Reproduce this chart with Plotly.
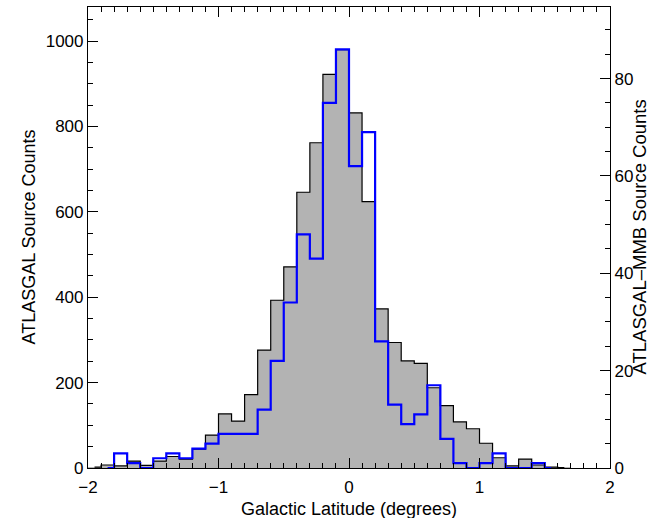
import plotly.graph_objects as go

# Bin layout (0.1 deg bins), galactic latitude
bin_width = 0.1
atlasgal_first_center = -1.95
mmb_first_center = -1.85

# ATLASGAL counts per bin (left axis), bins starting at -2.0
atlasgal_counts = [2, 7, 5, 16, 6, 16, 27, 21, 44, 77,
                   127, 110, 172, 276, 393, 471, 646, 762, 922, 980,
                   832, 624, 373, 294, 251, 245, 188, 146, 108, 92,
                   58, 24, 5, 21, 7, 2, 1]

# ATLASGAL-MMB counts per bin (right axis), bins starting at -1.9
mmb_counts = [0, 3, 1, 0, 2, 3, 2, 4, 5, 7,
              7, 7, 12, 22, 34, 48, 43, 75, 86, 62,
              69, 26, 13, 9, 11, 17, 6, 1, 0, 1,
              3, 0, 0, 1, 0]

x_ticks = [-2, -1, 0, 1, 2]
left_ticks = [0, 200, 400, 600, 800, 1000]
right_ticks = [0, 20, 40, 60, 80]
left_range = [0, 1080]
right_range = [0, 94.7]

x_title = "Galactic Latitude (degrees)"
left_title = "ATLASGAL Source Counts"
right_title = "ATLASGAL–MMB Source Counts"

atl_x = [round(atlasgal_first_center + i * bin_width, 3) for i in range(len(atlasgal_counts))]
mmb_x = [round(mmb_first_center + i * bin_width, 3) for i in range(len(mmb_counts))]

FONT = "Liberation Sans, Arial, sans-serif"
fig = go.Figure()

fig.add_trace(go.Bar(x=atl_x, y=atlasgal_counts, width=bin_width,
                     marker=dict(color="#b3b3b3", line=dict(width=0)),
                     showlegend=False, hoverinfo="skip"))
fig.add_trace(go.Scatter(x=atl_x, y=atlasgal_counts, mode="lines",
                         line=dict(color="black", width=1.2, shape="hvh"),
                         showlegend=False))
fig.add_trace(go.Scatter(x=mmb_x, y=mmb_counts, mode="lines", yaxis="y2",
                         line=dict(color="#0000ff", width=2.2, shape="hvh"),
                         showlegend=False))

fig.update_layout(
    width=661, height=518,
    margin=dict(l=88, r=51, t=7, b=50),
    plot_bgcolor="white", paper_bgcolor="white",
    bargap=0,
    font=dict(family=FONT, size=17, color="black"),
    xaxis=dict(range=[-2, 2], tickvals=x_ticks, ticks="inside", ticklen=10,
               tickwidth=1, tickcolor="black", showline=True, linecolor="black",
               linewidth=1.2, mirror="ticks", showgrid=False, zeroline=False,
               ticklabelstandoff=3,
               minor=dict(dtick=0.1, ticks="inside", ticklen=5, tickcolor="black", showgrid=False),
               automargin=False),
    yaxis=dict(range=left_range, tickvals=left_ticks, ticks="inside", ticklen=10,
               tickcolor="black", showline=True, linecolor="black", linewidth=1.2,
               showgrid=False, zeroline=False,
               minor=dict(dtick=50, ticks="inside", ticklen=5, tickcolor="black", showgrid=False),
               automargin=False),
    yaxis2=dict(range=right_range, tickvals=right_ticks, overlaying="y", side="right",
                ticks="inside", ticklen=10, tickcolor="black", showline=True,
                linecolor="black", linewidth=1.2, showgrid=False, zeroline=False,
                minor=dict(dtick=5, ticks="inside", ticklen=5, tickcolor="black", showgrid=False),
                automargin=False),
    annotations=[
        dict(text=x_title, xref="paper", yref="paper", x=0.5, y=0, yshift=-41,
             xanchor="center", yanchor="middle", showarrow=False, font=dict(size=18)),
        dict(text=left_title, xref="paper", yref="paper", x=0, y=0.5, xshift=-60,
             xanchor="center", yanchor="middle", textangle=-90, showarrow=False,
             font=dict(size=18)),
        dict(text=right_title, xref="paper", yref="paper", x=1, y=0.5, xshift=29,
             xanchor="center", yanchor="middle", textangle=-90, showarrow=False,
             font=dict(size=18.5)),
    ],
)

fig.write_html("out.html", config={"displayModeBar": False},
               post_script="document.body.style.margin='0';document.body.style.overflow='hidden';")
